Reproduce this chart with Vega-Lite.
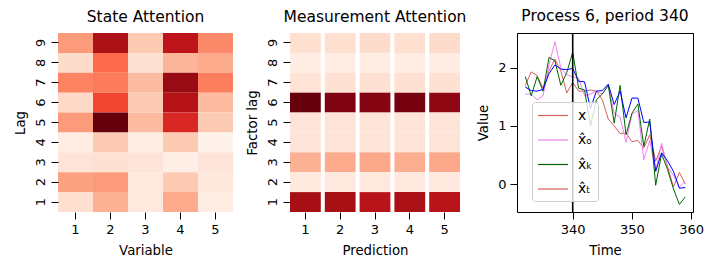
{
  "$schema": "https://vega.github.io/schema/vega-lite/v6.json",
  "padding": {"left": 13, "top": 8, "right": 5, "bottom": 5},
  "bounds": "flush",
  "spacing": 57,
  "config": {
    "font": "DejaVu Sans",
    "view": {"stroke": null},
    "title": {"fontSize": 15.5, "fontWeight": "normal", "color": "black", "offset": 8},
    "axis": {"labelFontSize": 13, "titleFontSize": 13.3, "titleFontWeight": "normal", "labelColor": "black", "titleColor": "black", "tickColor": "black", "domainColor": "black", "grid": false, "tickSize": 7, "labelPadding": 4, "titlePadding": 7}
  },
  "datasets": {
    "state": [
      {"variable": 1, "lag": 9, "w": 0.35}, {"variable": 2, "lag": 9, "w": 0.85}, {"variable": 3, "lag": 9, "w": 0.2}, {"variable": 4, "lag": 9, "w": 0.8}, {"variable": 5, "lag": 9, "w": 0.4},
      {"variable": 1, "lag": 8, "w": 0.14}, {"variable": 2, "lag": 8, "w": 0.5}, {"variable": 3, "lag": 8, "w": 0.12}, {"variable": 4, "lag": 8, "w": 0.27}, {"variable": 5, "lag": 8, "w": 0.3},
      {"variable": 1, "lag": 7, "w": 0.42}, {"variable": 2, "lag": 7, "w": 0.45}, {"variable": 3, "lag": 7, "w": 0.25}, {"variable": 4, "lag": 7, "w": 0.9}, {"variable": 5, "lag": 7, "w": 0.44},
      {"variable": 1, "lag": 6, "w": 0.15}, {"variable": 2, "lag": 6, "w": 0.6}, {"variable": 3, "lag": 6, "w": 0.2}, {"variable": 4, "lag": 6, "w": 0.82}, {"variable": 5, "lag": 6, "w": 0.25},
      {"variable": 1, "lag": 5, "w": 0.35}, {"variable": 2, "lag": 5, "w": 1.0}, {"variable": 3, "lag": 5, "w": 0.25}, {"variable": 4, "lag": 5, "w": 0.7}, {"variable": 5, "lag": 5, "w": 0.2},
      {"variable": 1, "lag": 4, "w": 0.05}, {"variable": 2, "lag": 4, "w": 0.2}, {"variable": 3, "lag": 4, "w": 0.05}, {"variable": 4, "lag": 4, "w": 0.2}, {"variable": 5, "lag": 4, "w": 0.02},
      {"variable": 1, "lag": 3, "w": 0.1}, {"variable": 2, "lag": 3, "w": 0.12}, {"variable": 3, "lag": 3, "w": 0.1}, {"variable": 4, "lag": 3, "w": 0.04}, {"variable": 5, "lag": 3, "w": 0.1},
      {"variable": 1, "lag": 2, "w": 0.33}, {"variable": 2, "lag": 2, "w": 0.35}, {"variable": 3, "lag": 2, "w": 0.07}, {"variable": 4, "lag": 2, "w": 0.2}, {"variable": 5, "lag": 2, "w": 0.08},
      {"variable": 1, "lag": 1, "w": 0.13}, {"variable": 2, "lag": 1, "w": 0.28}, {"variable": 3, "lag": 1, "w": 0.07}, {"variable": 4, "lag": 1, "w": 0.3}, {"variable": 5, "lag": 1, "w": 0.05}
    ],
    "meas": [
      {"prediction": 1, "lag": 9, "w": 0.13}, {"prediction": 2, "lag": 9, "w": 0.13}, {"prediction": 3, "lag": 9, "w": 0.14}, {"prediction": 4, "lag": 9, "w": 0.13}, {"prediction": 5, "lag": 9, "w": 0.14},
      {"prediction": 1, "lag": 8, "w": 0.05}, {"prediction": 2, "lag": 8, "w": 0.05}, {"prediction": 3, "lag": 8, "w": 0.05}, {"prediction": 4, "lag": 8, "w": 0.05}, {"prediction": 5, "lag": 8, "w": 0.05},
      {"prediction": 1, "lag": 7, "w": 0.11}, {"prediction": 2, "lag": 7, "w": 0.12}, {"prediction": 3, "lag": 7, "w": 0.12}, {"prediction": 4, "lag": 7, "w": 0.12}, {"prediction": 5, "lag": 7, "w": 0.12},
      {"prediction": 1, "lag": 6, "w": 1.0}, {"prediction": 2, "lag": 6, "w": 0.95}, {"prediction": 3, "lag": 6, "w": 0.94}, {"prediction": 4, "lag": 6, "w": 0.97}, {"prediction": 5, "lag": 6, "w": 0.92},
      {"prediction": 1, "lag": 5, "w": 0.1}, {"prediction": 2, "lag": 5, "w": 0.1}, {"prediction": 3, "lag": 5, "w": 0.1}, {"prediction": 4, "lag": 5, "w": 0.1}, {"prediction": 5, "lag": 5, "w": 0.1},
      {"prediction": 1, "lag": 4, "w": 0.1}, {"prediction": 2, "lag": 4, "w": 0.1}, {"prediction": 3, "lag": 4, "w": 0.1}, {"prediction": 4, "lag": 4, "w": 0.1}, {"prediction": 5, "lag": 4, "w": 0.1},
      {"prediction": 1, "lag": 3, "w": 0.28}, {"prediction": 2, "lag": 3, "w": 0.3}, {"prediction": 3, "lag": 3, "w": 0.31}, {"prediction": 4, "lag": 3, "w": 0.29}, {"prediction": 5, "lag": 3, "w": 0.31},
      {"prediction": 1, "lag": 2, "w": 0.07}, {"prediction": 2, "lag": 2, "w": 0.07}, {"prediction": 3, "lag": 2, "w": 0.07}, {"prediction": 4, "lag": 2, "w": 0.07}, {"prediction": 5, "lag": 2, "w": 0.07},
      {"prediction": 1, "lag": 1, "w": 0.87}, {"prediction": 2, "lag": 1, "w": 0.86}, {"prediction": 3, "lag": 1, "w": 0.81}, {"prediction": 4, "lag": 1, "w": 0.85}, {"prediction": 5, "lag": 1, "w": 0.81}
    ],
    "series": [
      {"time": 332, "s": "x̂ₜ", "value": 1.7}, {"time": 333, "s": "x̂ₜ", "value": 1.93}, {"time": 334, "s": "x̂ₜ", "value": 1.87}, {"time": 335, "s": "x̂ₜ", "value": 1.65}, {"time": 336, "s": "x̂ₜ", "value": 1.95}, {"time": 337, "s": "x̂ₜ", "value": 2.15}, {"time": 338, "s": "x̂ₜ", "value": 1.95}, {"time": 339, "s": "x̂ₜ", "value": 1.57}, {"time": 340, "s": "x̂ₜ", "value": 1.75}, {"time": 341, "s": "x̂ₜ", "value": 1.6}, {"time": 342, "s": "x̂ₜ", "value": 1.6}, {"time": 343, "s": "x̂ₜ", "value": 1.62}, {"time": 344, "s": "x̂ₜ", "value": 1.6}, {"time": 345, "s": "x̂ₜ", "value": 1.45}, {"time": 346, "s": "x̂ₜ", "value": 1.12}, {"time": 347, "s": "x̂ₜ", "value": 1.0}, {"time": 348, "s": "x̂ₜ", "value": 0.87}, {"time": 349, "s": "x̂ₜ", "value": 0.88}, {"time": 350, "s": "x̂ₜ", "value": 0.73}, {"time": 351, "s": "x̂ₜ", "value": 0.75}, {"time": 352, "s": "x̂ₜ", "value": 0.62}, {"time": 353, "s": "x̂ₜ", "value": 0.85}, {"time": 354, "s": "x̂ₜ", "value": 0.4}, {"time": 355, "s": "x̂ₜ", "value": 0.65}, {"time": 356, "s": "x̂ₜ", "value": 0.3}, {"time": 357, "s": "x̂ₜ", "value": -0.05}, {"time": 358, "s": "x̂ₜ", "value": 0.2}, {"time": 359, "s": "x̂ₜ", "value": 0.0},
      {"time": 332, "s": "x̂ₒ", "value": 1.55}, {"time": 333, "s": "x̂ₒ", "value": 1.55}, {"time": 334, "s": "x̂ₒ", "value": 1.45}, {"time": 335, "s": "x̂ₒ", "value": 1.52}, {"time": 336, "s": "x̂ₒ", "value": 2.05}, {"time": 337, "s": "x̂ₒ", "value": 2.45}, {"time": 338, "s": "x̂ₒ", "value": 2.0}, {"time": 339, "s": "x̂ₒ", "value": 1.88}, {"time": 340, "s": "x̂ₒ", "value": 1.85}, {"time": 341, "s": "x̂ₒ", "value": 1.82}, {"time": 342, "s": "x̂ₒ", "value": 1.52}, {"time": 343, "s": "x̂ₒ", "value": 1.55}, {"time": 344, "s": "x̂ₒ", "value": 1.6}, {"time": 345, "s": "x̂ₒ", "value": 1.55}, {"time": 346, "s": "x̂ₒ", "value": 1.7}, {"time": 347, "s": "x̂ₒ", "value": 1.22}, {"time": 348, "s": "x̂ₒ", "value": 1.15}, {"time": 349, "s": "x̂ₒ", "value": 0.72}, {"time": 350, "s": "x̂ₒ", "value": 1.2}, {"time": 351, "s": "x̂ₒ", "value": 1.27}, {"time": 352, "s": "x̂ₒ", "value": 0.42}, {"time": 353, "s": "x̂ₒ", "value": 0.75}, {"time": 354, "s": "x̂ₒ", "value": 0.22}, {"time": 355, "s": "x̂ₒ", "value": 0.7}, {"time": 356, "s": "x̂ₒ", "value": 0.3}, {"time": 357, "s": "x̂ₒ", "value": 0.15}, {"time": 358, "s": "x̂ₒ", "value": -0.05}, {"time": 359, "s": "x̂ₒ", "value": 0.05},
      {"time": 332, "s": "x̂ₖ", "value": 1.85}, {"time": 333, "s": "x̂ₖ", "value": 1.52}, {"time": 334, "s": "x̂ₖ", "value": 1.85}, {"time": 335, "s": "x̂ₖ", "value": 1.6}, {"time": 336, "s": "x̂ₖ", "value": 2.18}, {"time": 337, "s": "x̂ₖ", "value": 2.12}, {"time": 338, "s": "x̂ₖ", "value": 1.7}, {"time": 339, "s": "x̂ₖ", "value": 1.92}, {"time": 340, "s": "x̂ₖ", "value": 2.27}, {"time": 341, "s": "x̂ₖ", "value": 1.65}, {"time": 342, "s": "x̂ₖ", "value": 1.62}, {"time": 343, "s": "x̂ₖ", "value": 1.0}, {"time": 344, "s": "x̂ₖ", "value": 1.45}, {"time": 345, "s": "x̂ₖ", "value": 1.55}, {"time": 346, "s": "x̂ₖ", "value": 1.7}, {"time": 347, "s": "x̂ₖ", "value": 1.05}, {"time": 348, "s": "x̂ₖ", "value": 1.7}, {"time": 349, "s": "x̂ₖ", "value": 0.85}, {"time": 350, "s": "x̂ₖ", "value": 1.22}, {"time": 351, "s": "x̂ₖ", "value": 1.38}, {"time": 352, "s": "x̂ₖ", "value": 0.65}, {"time": 353, "s": "x̂ₖ", "value": 1.12}, {"time": 354, "s": "x̂ₖ", "value": -0.02}, {"time": 355, "s": "x̂ₖ", "value": 0.52}, {"time": 356, "s": "x̂ₖ", "value": 0.25}, {"time": 357, "s": "x̂ₖ", "value": -0.08}, {"time": 358, "s": "x̂ₖ", "value": -0.35}, {"time": 359, "s": "x̂ₖ", "value": -0.22},
      {"time": 332, "s": "x", "value": 1.67}, {"time": 333, "s": "x", "value": 1.61}, {"time": 334, "s": "x", "value": 1.6}, {"time": 335, "s": "x", "value": 1.63}, {"time": 336, "s": "x", "value": 1.9}, {"time": 337, "s": "x", "value": 2.05}, {"time": 338, "s": "x", "value": 1.98}, {"time": 339, "s": "x", "value": 1.97}, {"time": 340, "s": "x", "value": 1.99}, {"time": 341, "s": "x", "value": 1.77}, {"time": 342, "s": "x", "value": 1.76}, {"time": 343, "s": "x", "value": 1.3}, {"time": 344, "s": "x", "value": 1.6}, {"time": 345, "s": "x", "value": 1.61}, {"time": 346, "s": "x", "value": 1.72}, {"time": 347, "s": "x", "value": 1.37}, {"time": 348, "s": "x", "value": 1.6}, {"time": 349, "s": "x", "value": 1.14}, {"time": 350, "s": "x", "value": 1.48}, {"time": 351, "s": "x", "value": 1.48}, {"time": 352, "s": "x", "value": 1.06}, {"time": 353, "s": "x", "value": 1.07}, {"time": 354, "s": "x", "value": 0.22}, {"time": 355, "s": "x", "value": 0.54}, {"time": 356, "s": "x", "value": 0.4}, {"time": 357, "s": "x", "value": 0.22}, {"time": 358, "s": "x", "value": -0.07}, {"time": 359, "s": "x", "value": -0.06}
    ]
  },
  "hconcat": [
    {
      "width": 175, "height": 179,
      "title": "State Attention",
      "data": {"name": "state"},
      "mark": {"type": "rect"},
      "encoding": {
        "x": {"field": "variable", "type": "ordinal", "title": "Variable", "scale": {"padding": 0}, "axis": {"labelAngle": 0, "domain": false}},
        "y": {"field": "lag", "type": "ordinal", "sort": "descending", "title": "Lag", "scale": {"padding": 0}, "axis": {"labelAngle": -90, "domain": false, "labelAlign": "center", "labelBaseline": "bottom"}},
        "color": {"field": "w", "type": "quantitative", "scale": {"domain": [0, 0.125, 0.25, 0.375, 0.5, 0.625, 0.75, 0.875, 1], "range": ["#fff5f0", "#fee0d2", "#fcbba1", "#fc9272", "#fb6a4a", "#ef3b2c", "#cb181d", "#a50f15", "#67000d"]}, "legend": null}
      }
    },
    {
      "width": 170, "height": 179,
      "title": "Measurement Attention",
      "data": {"name": "meas"},
      "mark": {"type": "rect"},
      "encoding": {
        "x": {"field": "prediction", "type": "ordinal", "title": "Prediction", "scale": {"paddingInner": 0.115, "paddingOuter": 0}, "axis": {"labelAngle": 0, "domain": false}},
        "y": {"field": "lag", "type": "ordinal", "sort": "descending", "title": "Factor lag", "scale": {"padding": 0}, "axis": {"labelAngle": -90, "domain": false, "labelAlign": "center", "labelBaseline": "bottom"}},
        "color": {"field": "w", "type": "quantitative", "scale": {"domain": [0, 0.125, 0.25, 0.375, 0.5, 0.625, 0.75, 0.875, 1], "range": ["#fff5f0", "#fee0d2", "#fcbba1", "#fc9272", "#fb6a4a", "#ef3b2c", "#cb181d", "#a50f15", "#67000d"]}, "legend": null}
      }
    },
    {
      "width": 176, "height": 179,
      "title": "Process 6, period 340",
      "view": {"stroke": "black", "strokeWidth": 1},
      "resolve": {"scale": {"color": "independent"}},
      "layer": [
        {
          "data": {"name": "series"},
          "mark": {"type": "line", "strokeWidth": 1},
          "encoding": {
            "x": {"field": "time", "type": "quantitative", "title": "Time", "scale": {"domain": [330.6, 360.3], "nice": false, "zero": false}, "axis": {"values": [340, 350, 360], "format": "d", "domain": false}},
            "y": {"field": "value", "type": "quantitative", "title": "Value", "scale": {"domain": [-0.48, 2.6], "nice": false, "zero": false}, "axis": {"values": [0, 1, 2], "format": "d", "domain": false}},
            "color": {
              "field": "s", "type": "nominal", "sort": null,
              "scale": {"domain": ["x", "x̂ₒ", "x̂ₖ", "x̂ₜ"], "range": ["blue", "violet", "darkgreen", "#d65f5f"]},
              "legend": null
            }
          }
        },
        {
          "data": {"name": "series"},
          "transform": [{"filter": "datum.value > 100"}],
          "mark": {"type": "line", "strokeWidth": 1},
          "encoding": {
            "x": {"field": "time", "type": "quantitative"},
            "y": {"field": "value", "type": "quantitative"},
            "color": {
              "field": "s", "type": "nominal", "sort": null,
              "scale": {"domain": ["x", "x̂ₒ", "x̂ₖ", "x̂ₜ"], "range": ["#d65f5f", "violet", "darkgreen", "#d65f5f"]},
              "legend": {
                "title": null, "orient": "none", "legendX": 15, "legendY": 69,
                "symbolType": "M-1,0H3", "symbolSize": 225, "symbolStrokeWidth": 1.2,
                "labelFontSize": 14, "labelColor": "black", "labelOffset": 24,
                "rowPadding": 8.5, "padding": 5, "fillColor": "rgba(255,255,255,0.8)", "strokeColor": "#cccccc", "cornerRadius": 3
              }
            }
          }
        },
        {
          "data": {"values": [{"t": 340}]},
          "mark": {"type": "rule", "color": "black", "strokeWidth": 1.6},
          "encoding": {"x": {"field": "t", "type": "quantitative"}}
        }
      ]
    }
  ]
}
